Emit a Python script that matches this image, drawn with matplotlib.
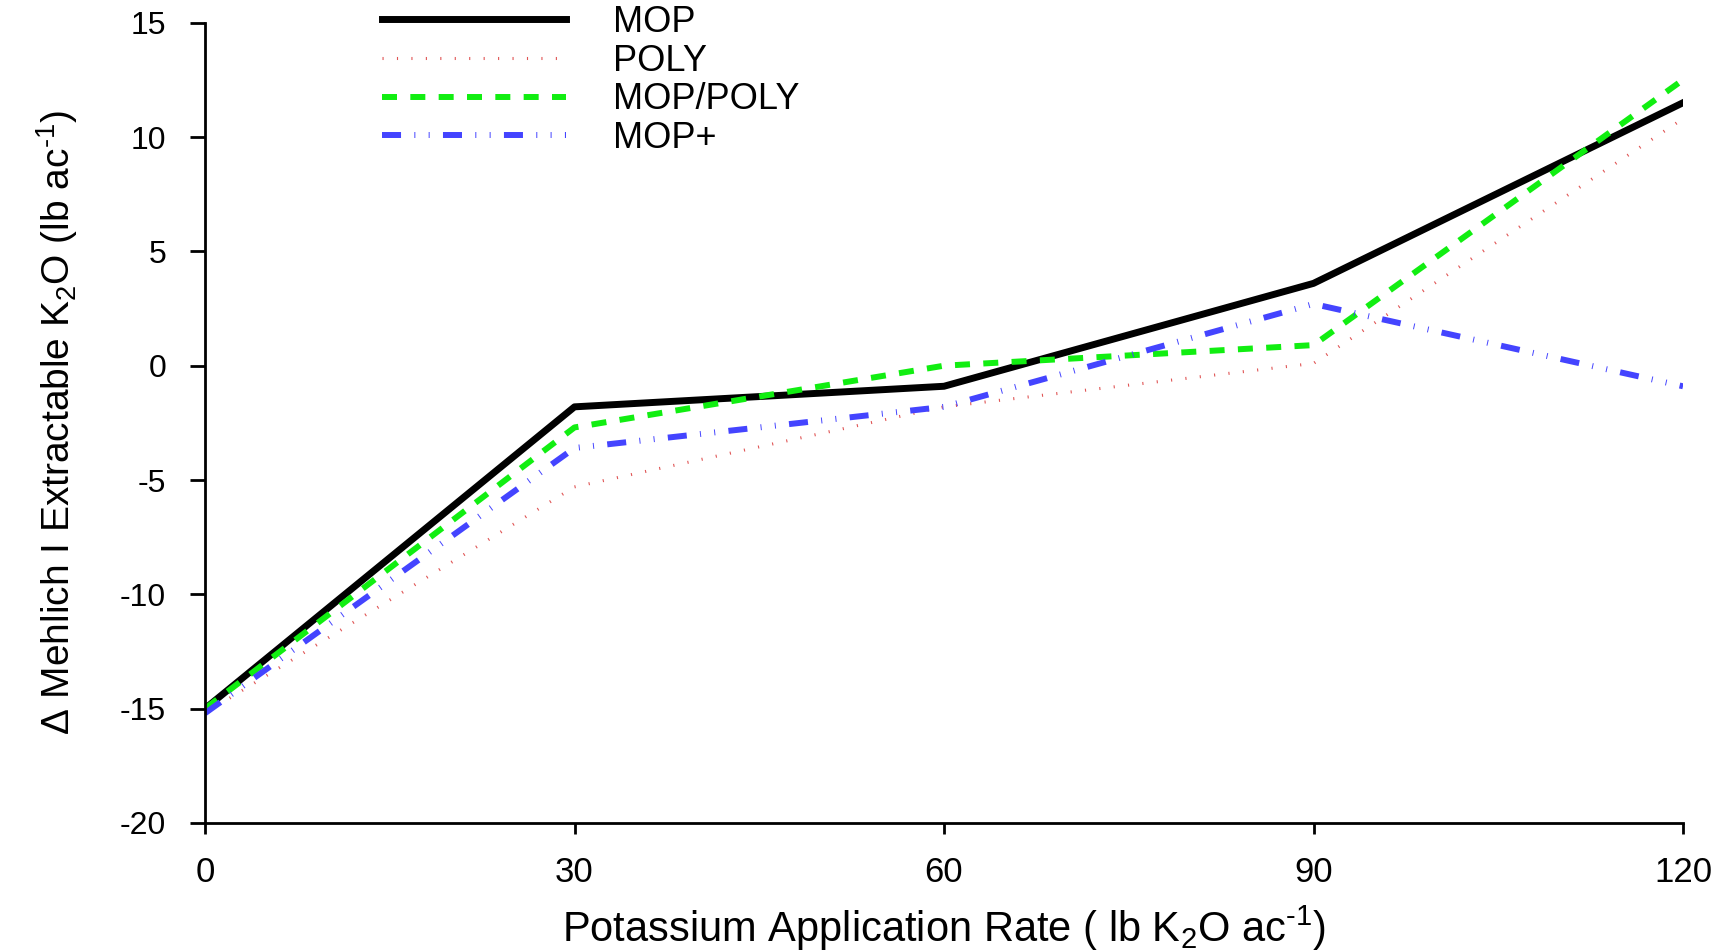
import matplotlib
matplotlib.use("Agg")
import matplotlib.pyplot as plt

rates = [0, 30, 60, 90, 120]
mop = [-15.0, -1.8, -0.9, 3.6, 11.5]
poly = [-15.2, -5.3, -1.8, 0.1, 10.8]
mop_poly = [-15.0, -2.7, 0.0, 0.9, 12.5]
mop_plus = [-15.2, -3.6, -1.8, 2.7, -0.9]
series_names = ["MOP", "POLY", "MOP/POLY", "MOP+"]
xticks = [0, 30, 60, 90, 120]
yticks = [-20, -15, -10, -5, 0, 5, 10, 15]

plt.rcParams["font.family"] = ["Liberation Sans", "DejaVu Sans"]
plt.rcParams["axes.unicode_minus"] = False
plt.rcParams["lines.scale_dashes"] = False
plt.rcParams["mathtext.fontset"] = "custom"
plt.rcParams["mathtext.rm"] = "Liberation Sans"
plt.rcParams["mathtext.it"] = "Liberation Sans"
plt.rcParams["mathtext.default"] = "rm"

fig = plt.figure(figsize=(17.36, 9.51), dpi=100)
ax = fig.add_axes([205 / 1736, 1 - 823 / 951, (1683 - 205) / 1736, (823 - 22.7) / 951])

ax.plot(rates, mop, color="black", lw=5.0, label=series_names[0])
ax.plot(rates, poly, color="#e05555", lw=2.2, dashes=(0.8, 9.6), label=series_names[1])
ax.plot(rates, mop_poly, color="#11ee11", lw=4.3, dashes=(10.8, 9.6), label=series_names[2])
ax.plot(rates, mop_plus, color="#4444ff", lw=4.3,
        dashes=(13.7, 9.6, 0.7, 9.6, 0.7, 9.6), label=series_names[3])

ax.set_xlim(0, 120)
ax.set_ylim(-20, 15)
ax.set_xticks(xticks)
ax.set_yticks(yticks)
ax.spines["top"].set_visible(False)
ax.spines["right"].set_visible(False)
for s in ("left", "bottom"):
    ax.spines[s].set_linewidth(2.0)
ax.tick_params(axis="y", length=11, width=2.0, pad=17, labelsize=23)
ax.tick_params(axis="x", length=8, width=2.0, pad=16, labelsize=25)

ax.set_xlabel(r"Potassium Application Rate ( lb K$_2$O ac$^{\text{-1}}$)",
              fontsize=30, labelpad=10)
ax.set_ylabel("\u0394 Mehlich I Extractable K$_2$O (lb ac$^{\\text{-1}}$)",
              fontsize=28, labelpad=29)

leg = fig.legend(loc="upper left", bbox_to_anchor=(382 / 1736, 1 - 5 / 951),
                 bbox_transform=fig.transFigure, frameon=False,
                 fontsize=26, handlelength=5.1, handletextpad=1.3,
                 labelspacing=0.1, borderpad=0, borderaxespad=0)

fig.savefig("out.png", dpi=100)
